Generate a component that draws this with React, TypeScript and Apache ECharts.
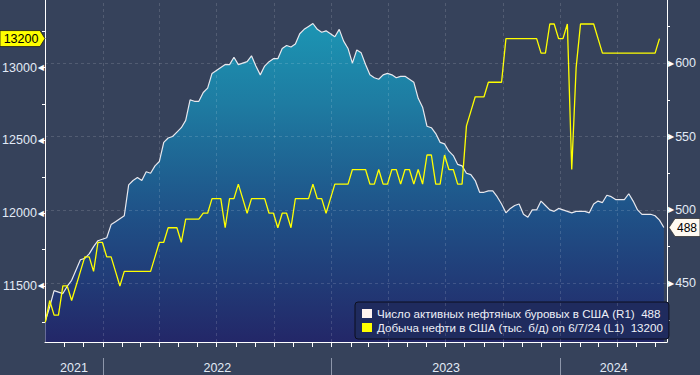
import React, { useEffect, useRef } from 'react';
import * as echarts from 'echarts';

// ---------- data ----------
const DAY = 86400000;
const WEEK = 7 * DAY;
const START = Date.UTC(2021, 9, 1); // first weekly observation (Fri 1 Oct 2021)
const AXIS_MIN = Date.UTC(2021, 8, 30, 12);
const AXIS_MAX = Date.UTC(2024, 5, 19);

// US active oil rigs (right axis, weekly)
const rigCounts = [
  424, 434, 445, 444, 443, 448, 452, 459, 466, 467,
  470, 475, 479, 480, 481, 490, 492, 494, 496, 517,
  520, 522, 520, 526, 525, 530, 533, 546, 549, 550,
  553, 556, 561, 575, 574, 574, 580, 583, 593, 595,
  597, 599, 599, 604, 599, 600, 601, 605, 598, 592,
  598, 601, 603, 603, 610, 612, 611, 613, 620, 623,
  625, 627, 623, 621, 622, 620, 618, 623, 615, 610,
  600, 609, 607, 599, 592, 590, 589, 592, 593, 592,
  590, 591, 591, 589, 587, 576, 570, 557, 556, 552,
  546, 545, 540, 537, 531, 530, 525, 524, 520, 512,
  512, 513, 513, 509, 504, 498, 501, 503, 504, 497,
  495, 500, 500, 506, 503, 500, 499, 501, 500, 499,
  498, 499, 499, 499, 498, 504, 506, 505, 510, 509,
  507, 507, 507, 511, 506, 500, 497, 497, 497, 496,
  493, 488,
];

// US crude oil production, thousand b/d (left axis, weekly)
const oilOutput = [
  11250, 11400, 11300, 11300, 11500, 11500, 11400, 11500, 11600, 11700,
  11700, 11600, 11800, 11800, 11700, 11700, 11600, 11500, 11600, 11600,
  11600, 11600, 11600, 11600, 11600, 11700, 11800, 11800, 11900, 11900,
  11900, 11800, 11960, 11960, 11960, 11960, 12000, 12000, 12100, 12100,
  12100, 11900, 12100, 12100, 12200, 12100, 12000, 12100, 12100, 12100,
  12100, 12000, 12000, 11900, 12000, 12000, 11900, 12100, 12100, 12100,
  12100, 12200, 12100, 12100, 12000, 12100, 12200, 12200, 12200, 12200,
  12300, 12300, 12300, 12300, 12200, 12200, 12300, 12200, 12200, 12300,
  12300, 12200, 12300, 12300, 12200, 12300, 12200, 12400, 12400, 12200,
  12200, 12400, 12300, 12300, 12200, 12200, 12600, 12700, 12800, 12800,
  12800, 12900, 12900, 12900, 12900, 13200, 13200, 13200, 13200, 13200,
  13200, 13200, 13200, 13100, 13100, 13300, 13300, 13200, 13200, 13300,
  12300, 13000, 13300, 13300, 13300, 13300, 13200, 13100, 13100, 13100,
  13100, 13100, 13100, 13100, 13100, 13100, 13100, 13100, 13100, 13100,
  13200,
];

const rigLabel = 'Число активных нефтяных буровых в США (R1)';
const outputLabel = 'Добыча нефти в США (тыс. б/д) on 6/7/24 (L1)';

const leftTicks = [11250, 11500, 11750, 12000, 12250, 12500, 12750, 13000, 13250];
const leftLabels = [11500, 12000, 12500, 13000];
const rightTicks = [425, 450, 475, 500, 525, 550, 575, 600, 625];
const rightLabels = [450, 500, 550, 600];
const yearStarts = [Date.UTC(2022, 0, 1), Date.UTC(2023, 0, 1), Date.UTC(2024, 0, 1)];
const quarterStarts = [
  Date.UTC(2022, 0, 1), Date.UTC(2022, 3, 1), Date.UTC(2022, 6, 1), Date.UTC(2022, 9, 1),
  Date.UTC(2023, 0, 1), Date.UTC(2023, 3, 1), Date.UTC(2023, 6, 1), Date.UTC(2023, 9, 1),
  Date.UTC(2024, 0, 1), Date.UTC(2024, 3, 1),
];

// ---------- helpers ----------
const monthTicks: number[] = [];
for (let y = 2021, m = 10; y < 2024 || (y === 2024 && m <= 5); m++) {
  if (m > 11) { m = 0; y++; }
  monthTicks.push(Date.UTC(y, m, 1));
}
const yearBounds = [AXIS_MIN, ...yearStarts, AXIS_MAX];
const yearLabelPos = yearBounds.slice(0, -1).map((t, i) => (t + yearBounds[i + 1]) / 2);

const FONT = 'Liberation Sans';
const BG = '#36425b';
const AXIS_TXT = '#e2eaf6';

export default function App() {
  const ref = useRef<HTMLDivElement>(null);

  useEffect(() => {
    if (!ref.current) return;
    const chart = echarts.init(ref.current, null, { renderer: 'svg' });
    const rigName = `${rigLabel}  ${rigCounts[rigCounts.length - 1]}`;
    const outName = `${outputLabel}  ${oilOutput[oilOutput.length - 1]}`;
    const gridLine = { type: [3, 3], color: 'rgba(255,255,255,0.14)', width: 1 };

    const option: any = {
      animation: false,
      backgroundColor: BG,
      textStyle: { fontFamily: FONT },
      grid: { left: 45, right: 33, top: 0, bottom: 33, containLabel: false, outerBoundsMode: 'none' },
      legend: {
        show: true,
        selectedMode: false,
        orient: 'vertical',
        left: 355,
        top: 302,
        padding: [5, 6, 5, 7],
        backgroundColor: '#1f2b5e',
        borderColor: '#0c0f1e',
        borderWidth: 1,
        borderRadius: 3,
        icon: 'rect',
        itemWidth: 10,
        itemHeight: 9,
        itemGap: 1,
        textStyle: { color: '#eef0f8', fontSize: 11.6, lineHeight: 13, fontFamily: FONT },
        data: [
          { name: rigName, itemStyle: { color: '#fff4f0' } },
          { name: outName, itemStyle: { color: '#ffff00' } },
        ],
      },
      xAxis: [
        {
          type: 'value',
          min: AXIS_MIN,
          max: AXIS_MAX,
          axisLine: { show: true, lineStyle: { color: '#ffffff', width: 1 } },
          axisTick: { show: true, customValues: monthTicks, length: 5, lineStyle: { color: '#ffffff' } },
          axisLabel: {
            customValues: yearLabelPos,
            formatter: (v: number) => String(new Date(v).getUTCFullYear()),
            color: AXIS_TXT,
            fontSize: 12.5,
            margin: 19,
          },
          splitLine: { show: false },
        },
        {
          type: 'value',
          min: AXIS_MIN,
          max: AXIS_MAX,
          position: 'bottom',
          offset: 16,
          axisLine: { show: false },
          axisTick: { show: true, customValues: yearStarts, length: 18, lineStyle: { color: '#8d96aa' } },
          axisLabel: { show: false },
          splitLine: { show: false },
        },
      ],
      yAxis: [
        {
          type: 'value',
          position: 'left',
          min: 11115,
          max: 13465,
          axisLine: { show: true, lineStyle: { color: '#ffffff', width: 1 } },
          axisTick: { show: true, customValues: leftTicks, length: 3, lineStyle: { color: '#ffffff' } },
          axisLabel: {
            customValues: leftLabels,
            margin: 1,
            formatter: (v: number) => `{v|${v}}{t|◀}`,
            rich: {
              v: { color: AXIS_TXT, fontSize: 12.5, fontFamily: FONT },
              t: { color: '#ffffff', fontSize: 8, fontFamily: 'DejaVu Sans', padding: [0, 0, 0, 1] },
            },
          },
          splitLine: { show: false },
        },
        {
          type: 'value',
          position: 'right',
          min: 410,
          max: 643,
          axisLine: { show: true, lineStyle: { color: '#ffffff', width: 1 } },
          axisTick: { show: true, customValues: rightTicks, length: 3, lineStyle: { color: '#ffffff' } },
          axisLabel: {
            customValues: rightLabels,
            margin: 1,
            formatter: (v: number) => `{t|▶}{v|${v}}`,
            rich: {
              v: { color: AXIS_TXT, fontSize: 12.5, fontFamily: FONT },
              t: { color: '#ffffff', fontSize: 8, fontFamily: 'DejaVu Sans', padding: [0, 1, 0, 0] },
            },
          },
          splitLine: { show: false },
        },
      ],
      series: [
        {
          name: rigName,
          type: 'line',
          xAxisIndex: 0,
          yAxisIndex: 1,
          data: rigCounts.map((v, i) => [START + i * WEEK, v]),
          showSymbol: false,
          symbol: 'none',
          lineStyle: { color: '#e8e8ee', width: 1.2 },
          itemStyle: { color: '#e8e8ee' },
          areaStyle: {
            opacity: 1,
            color: new echarts.graphic.LinearGradient(0, 0, 0, 342, [
              { offset: 0, color: '#1b9cb8' },
              { offset: 0.3, color: '#1e7ca2' },
              { offset: 0.62, color: '#1f5288' },
              { offset: 1, color: '#232768' },
            ], true),
          },
          markLine: {
            silent: true,
            symbol: ['none', 'none'],
            label: { show: false },
            lineStyle: gridLine,
            emphasis: { disabled: true },
            data: [
              ...quarterStarts.map((t) => ({ xAxis: t })),
              ...rightLabels.map((v) => ({ yAxis: v })),
            ],
          },
          z: 2,
        },
        {
          name: outName,
          type: 'line',
          xAxisIndex: 0,
          yAxisIndex: 0,
          data: oilOutput.map((v, i) => [START + i * WEEK, v]),
          showSymbol: false,
          symbol: 'none',
          lineStyle: { color: '#ffff00', width: 1.3 },
          itemStyle: { color: '#ffff00' },
          z: 3,
        },
      ],
    };

    chart.setOption(option);

    const lastOut = oilOutput[oilOutput.length - 1];
    const lastRig = rigCounts[rigCounts.length - 1];
    const yY = chart.convertToPixel({ yAxisIndex: 0 }, lastOut) as number;
    const yW = chart.convertToPixel({ yAxisIndex: 1 }, lastRig) as number;

    chart.setOption({
      graphic: [
        {
          type: 'polygon',
          z: 100,
          shape: { points: [[0, yY - 8], [40, yY - 8], [45, yY], [40, yY + 8], [0, yY + 8]] },
          style: { fill: '#ffff00', stroke: '#1a1a1a', lineWidth: 0.8 },
        },
        {
          type: 'text',
          z: 101,
          x: 21,
          y: yY,
          style: {
            text: String(lastOut),
            fill: '#000000',
            fontSize: 12.5,
            fontFamily: FONT,
            align: 'center',
            verticalAlign: 'middle',
            textAlign: 'center',
            textVerticalAlign: 'middle',
          },
        },
        {
          type: 'polygon',
          z: 100,
          shape: { points: [[669, yW], [675, yW - 9], [700, yW - 9], [700, yW + 9], [675, yW + 9]] },
          style: { fill: '#fffaf2', stroke: '#333333', lineWidth: 0.8 },
        },
        {
          type: 'text',
          z: 101,
          x: 687,
          y: yW,
          style: {
            text: String(lastRig),
            fill: '#000000',
            fontSize: 12,
            fontFamily: FONT,
            align: 'center',
            verticalAlign: 'middle',
            textAlign: 'center',
            textVerticalAlign: 'middle',
          },
        },
      ],
    });

    return () => chart.dispose();
  }, []);

  return (
    <div
      ref={ref}
      style={{ position: 'absolute', left: 0, top: 0, width: 700, height: 375 }}
    />
  );
}
